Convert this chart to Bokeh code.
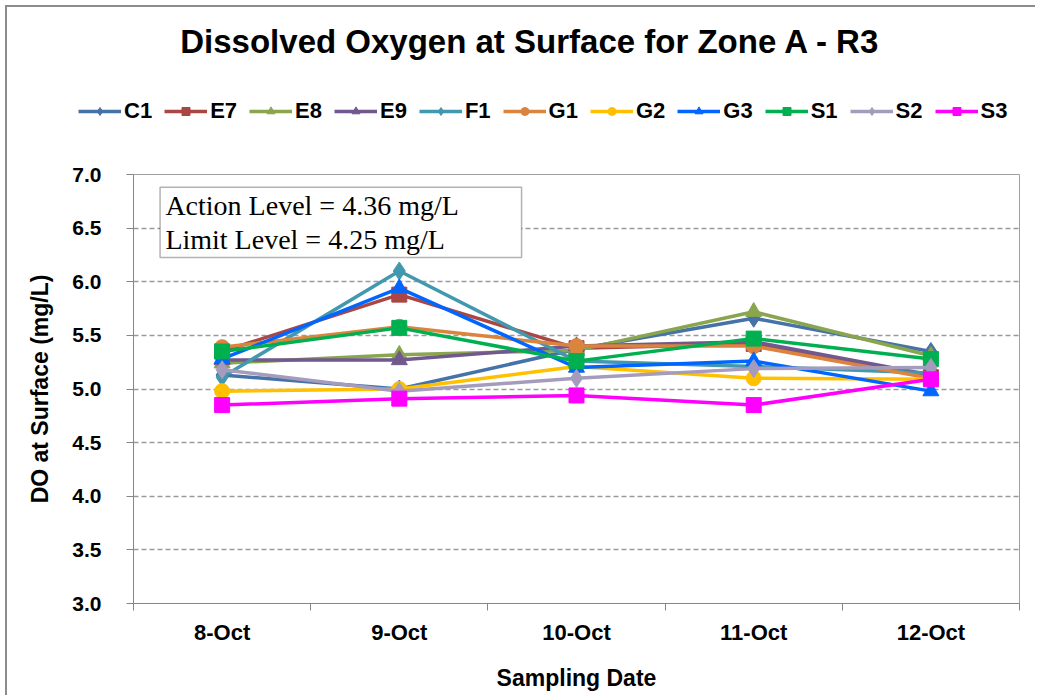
from bokeh.plotting import figure
from bokeh.layouts import column
from bokeh.models import (Range1d, FixedTicker, NumeralTickFormatter, Legend, LegendItem,
                          Label, BoxAnnotation, ColumnDataSource)
from bokeh.embed import file_html
from bokeh.resources import INLINE

dates = ["8-Oct", "9-Oct", "10-Oct", "11-Oct", "12-Oct"]
names = ["C1", "E7", "E8", "E9", "F1", "G1", "G2", "G3", "S1", "S2", "S3"]
C1 = [5.13, 5.00, 5.37, 5.66, 5.35]
E7 = [5.35, 5.88, 5.38, 5.42, 5.11]
E8 = [5.24, 5.32, 5.36, 5.72, 5.31]
E9 = [5.27, 5.27, 5.40, 5.44, 5.13]
F1 = [5.11, 6.10, 5.26, 5.21, 5.15]
G1 = [5.39, 5.58, 5.40, 5.40, 5.10]
G2 = [4.98, 5.00, 5.21, 5.10, 5.09]
G3 = [5.28, 5.94, 5.20, 5.26, 4.98]
S1 = [5.35, 5.57, 5.26, 5.47, 5.28]
S2 = [5.18, 4.98, 5.10, 5.19, 5.20]
S3 = [4.85, 4.91, 4.94, 4.85, 5.09]
series = [C1, E7, E8, E9, F1, G1, G2, G3, S1, S2, S3]
colors = ["#4572A7", "#AA4643", "#89A54E", "#71588F", "#4198AF", "#DB843D",
          "#FFC000", "#0066FF", "#00B050", "#A59BBD", "#FF00FF"]
markers = ["diamond", "square", "triangle", "triangle", "diamond", "circle",
           "circle", "triangle", "square", "diamond", "square"]
msizes = [18, 15, 16, 16, 18, 15, 15, 16, 15, 18, 15]
y_ticks = [3.0, 3.5, 4.0, 4.5, 5.0, 5.5, 6.0, 6.5, 7.0]
action_text = "Action Level = 4.36 mg/L"
limit_text = "Limit Level = 4.25 mg/L"
title_text = "Dissolved Oxygen at Surface for Zone A - R3"

xs = list(range(len(dates)))
W = 1030
H_TOP = 150
H_BOT = 540
BORDER = "2px solid #8c8c8c"

# ---- header figure (title + legend); its ranges keep the series out of view ----
top = figure(width=W, height=H_TOP, output_backend="svg", toolbar_location=None,
             title=None, x_range=Range1d(100, 101), y_range=Range1d(100, 101),
             x_axis_location=None, y_axis_location=None,
             min_border=0, min_border_left=0, min_border_right=0,
             min_border_top=0, min_border_bottom=0)
top.frame_align = False
top.styles = {"border-left": BORDER, "border-top": BORDER}
top.outline_line_color = None
top.grid.visible = False
top.background_fill_color = "white"
top.border_fill_color = "white"

# ---- main chart ----
p = figure(width=W, height=H_BOT, output_backend="svg", toolbar_location=None,
           title=None, x_range=Range1d(-0.5, len(dates) - 0.5), y_range=Range1d(3.0, 7.0),
           min_border_left=126, min_border_right=18, min_border_top=19, min_border_bottom=92)
p.frame_align = False
p.styles = {"border-left": BORDER}
p.background_fill_color = "white"
p.border_fill_color = "white"
p.outline_line_color = "#a0a0a0"
p.outline_line_width = 1

# y axis
p.yaxis.ticker = FixedTicker(ticks=y_ticks)
p.yaxis.formatter = NumeralTickFormatter(format="0.0")
p.yaxis.major_label_text_font = "Liberation Sans"
p.yaxis.major_label_text_font_style = "bold"
p.yaxis.major_label_text_font_size = "21px"
p.yaxis.major_label_text_color = "black"
p.yaxis.major_label_standoff = 25
p.yaxis.major_tick_out = 7
p.yaxis.major_tick_in = 0
p.yaxis.minor_tick_line_color = None
p.yaxis.axis_line_color = "#868686"
p.yaxis.major_tick_line_color = "#868686"
p.yaxis.axis_label = "DO at Surface (mg/L)"
p.yaxis.axis_label_text_font = "Liberation Sans"
p.yaxis.axis_label_text_font_style = "bold"
p.yaxis.axis_label_text_font_size = "23px"
p.yaxis.axis_label_text_color = "black"
p.yaxis.axis_label_standoff = 16

# x axis
bounds = [i - 0.5 for i in range(len(dates) + 1)]
p.xaxis.ticker = FixedTicker(ticks=xs, minor_ticks=bounds)
p.xaxis.major_label_overrides = {i: d for i, d in enumerate(dates)}
p.xaxis.major_tick_line_color = None
p.xaxis.major_tick_out = 7
p.xaxis.major_tick_in = 0
p.xaxis.minor_tick_line_color = "#868686"
p.xaxis.minor_tick_out = 7
p.xaxis.minor_tick_in = 0
p.xaxis.axis_line_color = "#868686"
p.xaxis.major_label_text_font = "Liberation Sans"
p.xaxis.major_label_text_font_style = "bold"
p.xaxis.major_label_text_font_size = "22px"
p.xaxis.major_label_text_color = "black"
p.xaxis.major_label_standoff = 9
p.xaxis.axis_label = "Sampling Date"
p.xaxis.axis_label_text_font = "Liberation Sans"
p.xaxis.axis_label_text_font_style = "bold"
p.xaxis.axis_label_text_font_size = "23px"
p.xaxis.axis_label_text_color = "black"
p.xaxis.axis_label_standoff = 17

p.xgrid.grid_line_color = None
p.ygrid.ticker = FixedTicker(ticks=y_ticks)
p.ygrid.grid_line_color = "#9a9a9a"
p.ygrid.grid_line_dash = "5 3"
p.ygrid.grid_line_width = 1.3

items = []
for name, vals, c, m, s in zip(names, series, colors, markers, msizes):
    src = ColumnDataSource(dict(x=xs, y=vals))
    p.line("x", "y", source=src, line_color=c, line_width=3.5)
    p.scatter("x", "y", source=src, marker=m, size=s, fill_color=c, line_color=c)
    # same series in the header figure (outside its range): only feeds the legend
    l2 = top.line("x", "y", source=src, line_color=c, line_width=3.5)
    s2 = top.scatter("x", "y", source=src, marker=m, size=s, fill_color=c, line_color=c)
    items.append(LegendItem(label=name, renderers=[l2, s2]))

legend = Legend(items=items, orientation="horizontal", location=(71, 33),
                glyph_width=43, glyph_height=20, label_standoff=3, spacing=12,
                padding=0, margin=0, border_line_color=None, background_fill_alpha=0,
                label_text_font="Liberation Sans", label_text_font_style="bold",
                label_text_font_size="22px", label_text_color="black")
top.add_layout(legend, "center")

top.add_layout(Label(x=523, y=H_TOP - 34, x_units="screen", y_units="screen",
                     text=title_text, text_font="Liberation Sans",
                     text_font_style="bold", text_font_size="33px", text_align="center",
                     text_baseline="middle", text_color="black"))

box = BoxAnnotation(left=-0.35, right=1.69, top=6.88, bottom=6.226,
                    fill_color="white", fill_alpha=1.0, line_color="black", line_width=1.5)
p.add_layout(box)
p.add_layout(Label(x=-0.32, y=6.71, text=action_text, text_font="Liberation Serif",
                   text_font_size="28px", text_baseline="middle", text_color="black"))
p.add_layout(Label(x=-0.32, y=6.395, text=limit_text, text_font="Liberation Serif",
                   text_font_size="28px", text_baseline="middle", text_color="black"))

layout = column(top, p, spacing=0)
layout.styles = {"margin-left": "5px", "margin-top": "5px"}

open("out.html", "w").write(file_html(layout, INLINE))
